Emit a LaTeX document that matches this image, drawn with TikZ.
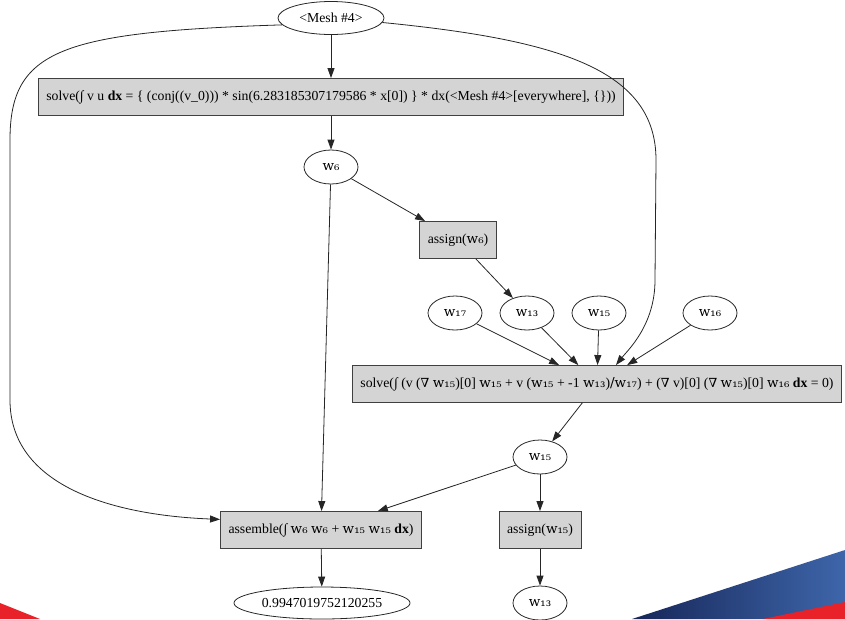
\documentclass[tikz,border=0pt]{standalone}
\usepackage{fontspec}
\setmainfont{Liberation Serif}
\newfontfamily\symfont{DejaVu Serif}
\usetikzlibrary{arrows.meta,shapes.geometric}
\newcommand{\wv}[1]{{\symfont\fontsize{13.5}{15}\selectfont w#1}}
\newcommand{\nb}{{\symfont\fontsize{12.5}{15}\selectfont ∇}}
\definecolor{navyA}{RGB}{22,38,88}
\definecolor{navyB}{RGB}{62,102,170}
\definecolor{stripe}{RGB}{232,34,40}

\tikzset{
	opbox/.style={draw=black!75, fill=black!17, line width=0.9pt, minimum height=37pt, inner xsep=8pt},
	varnode/.style={ellipse, draw=black!85, line width=0.8pt, minimum width=54pt, minimum height=34pt, inner sep=1pt},
	edge/.style={draw=black!85, line width=0.8pt, -{Triangle[length=10pt,width=7pt]}}
}

\begin{document}
\begin{tikzpicture}[x=1pt, y=-1pt, font=\fontsize{13.75}{16}\selectfont]
		%%%%% START %%%%%
		\useasboundingbox (0, 0) rectangle (845, 619);
		
		% corner decoration
		\fill[stripe] (0, 603) -- (40, 619) -- (0, 619) -- cycle;
		\shade[left color=navyA, right color=navyB] (632, 619) -- (845, 550) -- (845, 619) -- cycle;
		\fill[stripe] (763, 619) -- (845, 602) -- (845, 619) -- cycle;
		
		\node[varnode, minimum width=106pt, minimum height=33pt] (mesh) at (331, 18) {<Mesh \#4>};
		\node[opbox] (solvemass) at (331, 97) {solve(∫ v u \textbf{dx} = \{ (conj((v\_0))) * sin(6.283185307179586 * x[0]) \} * dx(<Mesh \#4>[everywhere], \{\}))};
		\node[varnode] (wsix) at (331, 167) {\wv{₆}};
		\node[opbox] (assignsix) at (458, 240) {assign(\wv{₆})};
		
		\node[varnode] (wseventeen) at (455, 313) {\wv{₁₇}};
		\node[varnode] (wthirteen) at (527, 313) {\wv{₁₃}};
		\node[varnode] (wfifteen) at (599, 313) {\wv{₁₅}};
		\node[varnode] (wsixteen) at (710, 313) {\wv{₁₆}};
		
		\node[opbox] (solveflow) at (597, 384) {solve(∫ (v (\nb{} \wv{₁₅})[0] \wv{₁₅} + v (\wv{₁₅} + -1 \wv{₁₃}){\symfont ∕}\wv{₁₇}) + (\nb{} v)[0] (\nb{} \wv{₁₅})[0] \wv{₁₆} \textbf{dx} = 0)};
		\node[varnode] (wfifteenb) at (540, 457) {\wv{₁₅}};
		
		\node[opbox] (assemble) at (321, 530) {assemble(∫ \wv{₆} \wv{₆} + \wv{₁₅} \wv{₁₅} \textbf{dx})};
		\node[opbox] (assignfifteen) at (540, 530) {assign(\wv{₁₅})};
		\node[varnode, minimum width=176pt, minimum height=32pt] (result) at (322, 603) {0.9947019752120255};
		\node[varnode] (wthirteenb) at (540, 603) {\wv{₁₃}};
		
		\draw[edge] (mesh) -- (solvemass);
		\draw[edge] (mesh.188) .. controls (60, 32) and (10, 50) .. (10, 140) -- (10, 400) .. controls (10, 485) and (110, 515) .. (assemble.174);
		\draw[edge] (mesh.-5) .. controls (560, 40) and (656, 70) .. (656, 160) -- (655, 280) .. controls (655, 325) and (628, 350) .. (solveflow.45);
		\draw[edge] (solvemass) -- (wsix);
		\draw[edge] (wsix) -- (assignsix);
		\draw[edge] (wsix) -- (assemble);
		\draw[edge] (assignsix) -- (wthirteen);
		
		\draw[edge] (wseventeen) -- (solveflow);
		\draw[edge] (wthirteen) -- (solveflow);
		\draw[edge] (wfifteen) -- (solveflow);
		\draw[edge] (wsixteen) -- (solveflow);
		\draw[edge] (solveflow) -- (wfifteenb);
		
		\draw[edge] (wfifteenb) -- (assemble);
		\draw[edge] (wfifteenb) -- (assignfifteen);
		\draw[edge] (assemble) -- (result);
		\draw[edge] (assignfifteen) -- (wthirteenb);
		%%%%% END %%%%%
\end{tikzpicture}
\end{document}
